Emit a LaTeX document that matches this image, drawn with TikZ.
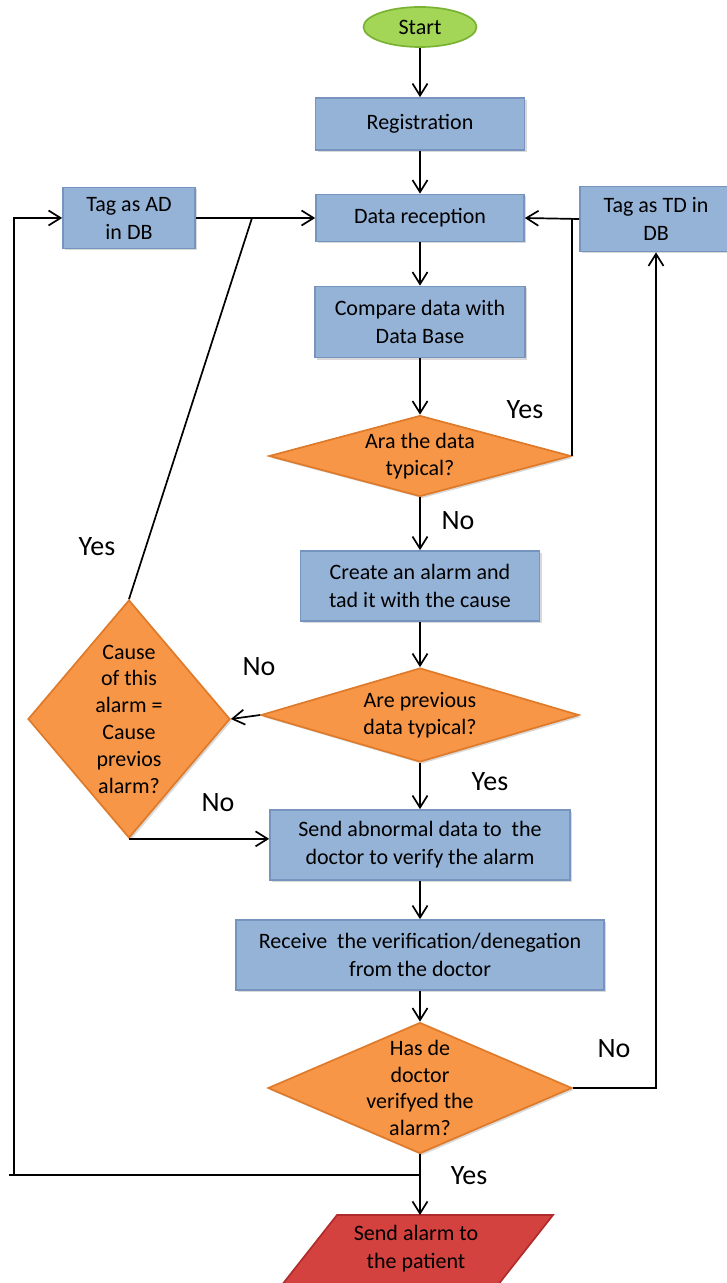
\documentclass[tikz,border=0pt]{standalone}
\usepackage{fontspec}
\setmainfont{Carlito}
\usetikzlibrary{shapes.geometric,arrows.meta,shadows}

\definecolor{boxblue}{RGB}{149,179,215}
\definecolor{boxline}{RGB}{118,148,190}
\definecolor{askorange}{RGB}{247,150,70}
\definecolor{askline}{RGB}{222,122,42}
\definecolor{startgreen}{RGB}{163,214,86}
\definecolor{startline}{RGB}{122,178,52}
\definecolor{alarmred}{RGB}{212,66,64}
\definecolor{alarmline}{RGB}{176,44,44}

\begin{document}
\begin{tikzpicture}[
    x=0.5pt, y=-0.5pt, line width=0.85pt,
    block/.style={rectangle, draw=boxline, fill=boxblue, align=center, inner sep=0pt,
        font=\fontsize{11}{14}\selectfont,
        drop shadow={opacity=0.3, shadow xshift=1pt, shadow yshift=-1pt}},
    ask/.style={diamond, draw=askline, fill=askorange, inner sep=0pt,
        drop shadow={opacity=0.3, shadow xshift=1pt, shadow yshift=-1pt}},
    asktext/.style={align=center, inner sep=0pt, font=\fontsize{11}{13.4}\selectfont},
    answer/.style={font=\fontsize{14}{16}\selectfont},
    arrow/.style={-{Straight Barb[length=6pt,width=7.5pt]}}
]
\path[use as bounding box, clip] (0,0) rectangle (727,1283);

% Main column
\node (start) [ellipse, draw=startline, fill=startgreen, inner sep=0pt, minimum width=56.5pt,
    minimum height=20pt, font=\fontsize{11}{14}\selectfont] at (420,27) {Start};
\node (reg) [block, minimum width=104.5pt, minimum height=26pt] at (420,124) {Registration};
\node (recep) [block, minimum width=104pt, minimum height=23.5pt] at (420,218) {Data reception};
\node (comp) [block, minimum width=105pt, minimum height=35.5pt] at (420,322) {Compare data with\\Data Base};
\node (typ) [ask, minimum width=151pt, minimum height=40.5pt] at (420,456) {};
\node (typtxt) [asktext] at (typ) {Ara the data\\typical?};
\node (create) [block, minimum width=119.5pt, minimum height=35pt] at (420,586) {Create an alarm and\\tad it with the cause};
\node (prev) [ask, minimum width=159pt, minimum height=47pt] at (420,715) {};
\node (prevtxt) [asktext] at (prev) {Are previous\\data typical?};
\node (send) [block, minimum width=150pt, minimum height=35pt] at (420,845) {Send abnormal data to~ the\\doctor to verify the alarm};
\node (recv) [block, minimum width=184pt, minimum height=35pt] at (420,955) {Receive~ the verification/denegation\\from the doctor};
\node (verif) [ask, minimum width=152pt, minimum height=65.5pt] at (420,1088) {};
\node (veriftxt) [asktext] at (verif) {Has de\\doctor\\verifyed the\\alarm?};

% Output parallelogram (cut by the page edge)
\filldraw [draw=alarmline, fill=alarmred] (337,1215) -- (553,1215) -- (490,1295) -- (274,1295) -- cycle;
\coordinate (atop) at (420,1215);
\node (alarm) [align=center, font=\fontsize{11}{14}\selectfont] at (416,1249) {Send alarm to\\the patient};

% Side nodes
\node (tagad) [block, minimum width=66pt, minimum height=30.5pt] at (129,218) {Tag as AD\\in DB};
\node (tagtd) [block, minimum width=76pt, minimum height=32.5pt] at (656,219) {Tag as TD in\\DB};
\node (cause) [ask, minimum width=101pt, minimum height=119pt] at (129,719) {};
\node (causetxt) [asktext] at (cause) {Cause\\of this\\alarm =\\Cause\\previos\\alarm?};

% Junctions
\coordinate (jad) at (252,218);
\coordinate (jloop) at (420,1175);
\coordinate (lcorner) at (14,1175);
\coordinate (lend) at (9,1175);

% Connect nodes
\draw [arrow] (start) -- (reg);
\draw [arrow] (reg) -- (recep);
\draw [arrow] (recep) -- (comp);
\draw [arrow] (comp) -- (typ);
\draw (typ.east) -- (typ.east |- recep.east);
\draw [arrow] (tagtd.west) -- (recep.east);
\draw [arrow] (typ) -- (create);
\draw [arrow] (create) -- (prev);
\draw [arrow] (prev.west) -- (cause.east);
\draw [arrow] (tagad) -- (recep);
\draw (cause.north) -- (jad);
\draw [arrow] (cause.south) -- (cause.south -| send.west);
\draw [arrow] (prev) -- (send);
\draw [arrow] (send) -- (recv);
\draw [arrow] (recv) -- (verif);
\draw [arrow] (verif.east) -| (tagtd.south);
\draw [arrow] (verif.south) -- (atop);
\draw (jloop) -- (lend);
\draw [arrow] (lcorner) |- (tagad.west);

% Answers
\node (a1) [answer] at (525,410) {Yes};
\node (a2) [answer] at (458,521) {No};
\node (a3) [answer] at (97,547) {Yes};
\node (a4) [answer] at (259,667) {No};
\node (a5) [answer] at (490,782) {Yes};
\node (a6) [answer] at (218,803) {No};
\node (a7) [answer] at (614,1049) {No};
\node (a8) [answer] at (469,1176) {Yes};
\end{tikzpicture}
\end{document}
